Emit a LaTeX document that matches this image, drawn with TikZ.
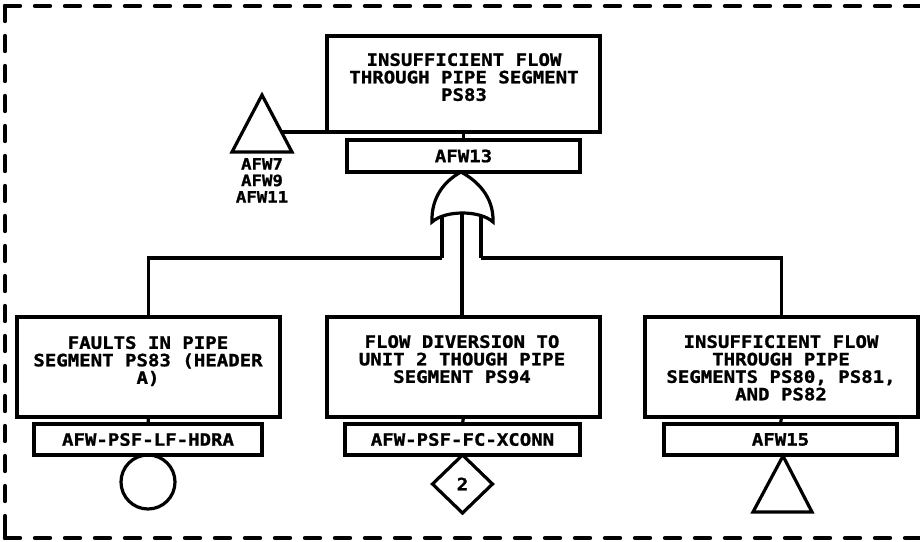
\documentclass[tikz,border=0pt]{standalone}
\usepackage{fontspec}
\newfontfamily\plotfont{DejaVu Sans Mono}[FakeStretch=1.12, BoldFeatures={FakeBold=1.2}]
\usetikzlibrary{shapes.geometric}
\tikzset{
  box/.style={draw, rectangle, line width=3.6pt, inner sep=0pt, outer sep=0pt},
  lbl/.style={font=\plotfont\bfseries\fontsize{17}{17.5}\selectfont, align=center, inner sep=0pt, anchor=north},
  idtxt/.style={font=\plotfont\bfseries\fontsize{17}{17.5}\selectfont},
  smalllbl/.style={font=\plotfont\bfseries\fontsize{15.5}{16.5}\selectfont, align=center, inner sep=0pt, anchor=north},
  wire/.style={line width=3.2pt},
  border/.style={line width=4.4pt, line cap=round, dash pattern=on 15pt off 15pt},
}
\begin{document}
\begin{tikzpicture}[x=1pt,y=-1pt]
\useasboundingbox (0,0) rectangle (920,541);
% dashed frame
\draw[border] (5,6) -- (930,6);
\draw[border] (5,6) -- (5,538);
\draw[border] (5,538) -- (930,538);
\draw[border, dash pattern=on 12pt off 30pt] (5,526) -- (5,538);

% top event
\node[box, minimum width=273, minimum height=96] (top) at (463.5,84) {};
\node[lbl] (toptxt) at (464,53) {INSUFFICIENT FLOW\\THROUGH PIPE SEGMENT\\PS83};
\node[box, minimum width=233, minimum height=32, idtxt] (id13) at (463.5,156) {AFW13};
\draw[wire] (top.south) -- (id13.north);

% transfer triangle (left top)
\coordinate (ta) at (262,95);
\coordinate (tbr) at (292,152);
\coordinate (tbl) at (232,152);
\draw[wire, line join=miter] (ta) -- (tbr) -- (tbl) -- cycle;
\coordinate (tc) at (281.5,132);
\draw[wire] (tc) -- (top.south west);
\node[smalllbl] (tlbl) at (262,158) {AFW7\\AFW9\\AFW11};

% OR gate
\draw[wire] (432,222) .. controls (431,196) and (446,180) .. (461,172)
  .. controls (476,180) and (494,196) .. (493,222)
  .. controls (480,210) and (445,210) .. cycle;
\coordinate (glt) at (442,217);
\coordinate (grt) at (481,217);
\coordinate (gl) at (442,258);
\coordinate (gr) at (481,258);
\coordinate (gb) at (462,214);
\draw[wire] (glt) -- (gl);
\draw[wire] (grt) -- (gr);

% bottom boxes
\node[box, minimum width=263, minimum height=100] (left) at (148.5,367) {};
\node[lbl] (lefttxt) at (148,336) {FAULTS IN PIPE\\SEGMENT PS83 (HEADER\\A)};
\node[box, minimum width=228, minimum height=31, idtxt] (idL) at (148,439.5) {AFW-PSF-LF-HDRA};

\node[box, minimum width=273, minimum height=100] (mid) at (463.5,367) {};
\node[lbl] (midtxt) at (462,335) {FLOW DIVERSION TO\\UNIT 2 THOUGH PIPE\\SEGMENT PS94};
\node[box, minimum width=235, minimum height=31, idtxt] (idM) at (462.5,439.5) {AFW-PSF-FC-XCONN};

\node[box, minimum width=273, minimum height=100] (right) at (781.5,367) {};
\node[lbl] (righttxt) at (781,335) {INSUFFICIENT FLOW\\THROUGH PIPE\\SEGMENTS PS80, PS81,\\AND PS82};
\node[box, minimum width=233, minimum height=31, idtxt] (idR) at (780.5,439.5) {AFW15};

% connectors
\draw[wire] (gl) -| (left.north);
\draw[wire] (gr) -| (right.north);
\draw[wire] (gb) -- (gb |- mid.north);
\draw[wire] (left.south) -- (idL.north);
\draw[wire] (mid.south) -- (idM.north);
\draw[wire] (right.south) -- (idR.north);

% basic event, diamond, transfer
\node[draw, circle, line width=3.2pt, minimum size=54, inner sep=0pt, outer sep=0pt, anchor=north] (circ) at (idL.south) {};
\node[draw, diamond, line width=3.2pt, minimum width=60, minimum height=58, inner sep=0pt, outer sep=0pt, anchor=north, idtxt] (dia) at (idM.south) {2};
\coordinate (t2a) at (783,456);
\coordinate (t2r) at (812,512);
\coordinate (t2l) at (753,512);
\draw[wire, line join=miter] (t2a) -- (t2r) -- (t2l) -- cycle;
\end{tikzpicture}
\end{document}
